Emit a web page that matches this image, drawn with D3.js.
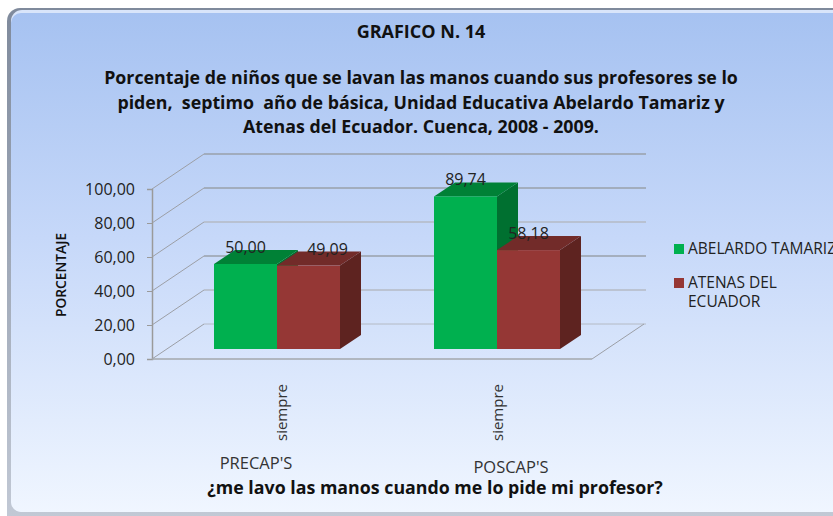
<!DOCTYPE html>
<html lang="es">
<head>
    <meta charset="utf-8" />
    <title>Grafico 14</title>
    <script src="https://cdn.jsdelivr.net/npm/d3@7"></script>
</head>
<body style="margin: 0px; background: #fff; overflow: hidden;">
<svg id="chart" width="833" height="516" style="display: block"></svg>
<script>
    var categories = ["PRECAP'S", "POSCAP'S"];
    var subLabels = ["siempre", "siempre"];
    var seriesNames = ["ABELARDO TAMARIZ", "ATENAS DEL ECUADOR"];
    var abelardo = [50.00, 89.74];
    var atenas = [49.09, 58.18];
    var yTicks = [0, 20, 40, 60, 80, 100];
    var titleLines = [
        "Porcentaje de niños que se lavan las manos cuando sus profesores se lo",
        "piden,  septimo  año de básica, Unidad Educativa Abelardo Tamariz y",
        "Atenas del Ecuador. Cuenca, 2008 - 2009."
    ];

    var font = "'Open Sans', sans-serif";
    var fmt = function(v) { return v.toFixed(2).replace(".", ","); };

    var svg = d3.select("#chart");
    var defs = svg.append("defs");

    var bg = defs.append("linearGradient").attr("id", "panel-bg")
        .attr("x1", 0).attr("y1", 0).attr("x2", 0).attr("y2", 1);
    bg.append("stop").attr("offset", "0%").attr("stop-color", "#a6c2f1");
    bg.append("stop").attr("offset", "45%").attr("stop-color", "#c6d8f9");
    bg.append("stop").attr("offset", "100%").attr("stop-color", "#f0f6ff");

    var edge = defs.append("linearGradient").attr("id", "panel-edge")
        .attr("x1", 0).attr("y1", 0).attr("x2", 0).attr("y2", 1);
    edge.append("stop").attr("offset", "0%").attr("stop-color", "#7f8a9c");
    edge.append("stop").attr("offset", "100%").attr("stop-color", "#c3cad6");

    // panel, runs off the right edge of the picture
    svg.append("rect")
        .attr("x", 7).attr("y", 8).attr("width", 860).attr("height", 520).attr("rx", 13)
        .attr("fill", "url(#panel-edge)");
    svg.append("rect")
        .attr("x", 11).attr("y", 10).attr("width", 860).attr("height", 502).attr("rx", 11)
        .attr("fill", "#d9e5fa");
    svg.append("rect")
        .attr("x", 11).attr("y", 13).attr("width", 860).attr("height", 499).attr("rx", 10)
        .attr("fill", "url(#panel-bg)");

    // scales
    var x = d3.scaleBand().domain(d3.range(categories.length)).range([152, 592]);
    var y = d3.scaleLinear().domain([0, 100]).range([359, 189]);
    var wallDx = 52, wallDy = -35;
    var barW = 63, barDx = 21, barDy = -14;
    var barShiftX = 15, barShiftY = -10;

    var g = svg.append("g");

    // back wall + side wall
    yTicks.forEach(function(t, i) {
        g.append("line")
            .attr("x1", x.range()[0] + wallDx).attr("x2", x.range()[1] + wallDx + 2)
            .attr("y1", y(t) + wallDy).attr("y2", y(t) + wallDy)
            .attr("stroke", i % 2 == 0 && i > 0 || i == 5 ? "#99a0aa" : "#b4bac4")
            .attr("stroke-width", i == 0 ? 1 : 1.3);
        g.append("line")
            .attr("x1", x.range()[0]).attr("x2", x.range()[0] + wallDx)
            .attr("y1", y(t)).attr("y2", y(t) + wallDy)
            .attr("stroke", "#9c9fa6");
    });

    // axis
    var yAxis = d3.axisLeft(y).tickValues(yTicks).tickFormat(fmt).tickSize(5).tickPadding(12);
    var axisG = g.append("g").attr("transform", "translate(" + x.range()[0] + ",0)").call(yAxis);
    axisG.selectAll("line").attr("stroke", "#9a9a9a");
    axisG.select(".domain").attr("stroke", "#9a9a9a").attr("stroke-width", 1.5);
    axisG.selectAll("text").attr("font-family", font).attr("font-size", 16).attr("fill", "#222");

    // floor
    g.append("line")
        .attr("x1", x.range()[0]).attr("x2", x.range()[1])
        .attr("y1", y(0)).attr("y2", y(0))
        .attr("stroke", "#a3a7ad").attr("stroke-width", 1.5);
    g.append("line")
        .attr("x1", x.range()[1]).attr("x2", x.range()[1] + wallDx)
        .attr("y1", y(0)).attr("y2", y(0) + wallDy)
        .attr("stroke", "#9c9fa6");

    // 3d bars
    var colors = [
        {front: "#00b04f", top: "#008136", side: "#007030"},
        {front: "#953735", top: "#722b29", side: "#5e2320"}
    ];

    function bar(xPos, value, c) {
        var x0 = xPos, x1 = xPos + barW;
        var yB = y(0) + barShiftY;
        var yT = y(value) + barShiftY;
        g.append("polygon")
            .attr("points", [[x1, yT], [x1 + barDx, yT + barDy], [x1 + barDx, yB + barDy], [x1, yB]].join(" "))
            .attr("fill", c.side);
        g.append("polygon")
            .attr("points", [[x0, yT], [x0 + barDx, yT + barDy], [x1 + barDx, yT + barDy], [x1, yT]].join(" "))
            .attr("fill", c.top);
        g.append("rect")
            .attr("x", x0).attr("y", yT).attr("width", barW).attr("height", yB - yT)
            .attr("fill", c.front);
    }

    function barX(i, s) {
        return x(i) + x.bandwidth() / 2 + barShiftX - barW + s * barW;
    }

    categories.forEach(function(c, i) {
        bar(barX(i, 0), abelardo[i], colors[0]);
        bar(barX(i, 1), atenas[i], colors[1]);
    });

    function valueLabel(i, s, value, nudge) {
        g.append("text")
            .attr("x", barX(i, s) + barW / 2 + nudge)
            .attr("y", y(value) + barShiftY - 11)
            .attr("text-anchor", "middle")
            .attr("font-family", font).attr("font-size", 16).attr("fill", "#222")
            .text(fmt(value));
    }
    categories.forEach(function(c, i) {
        valueLabel(i, 0, abelardo[i], 0);
        valueLabel(i, 1, atenas[i], i == 0 ? 19 : 0);
    });

    // category labels
    var subX = [287, 503], catX = [256, 511], catY = [469, 473];
    categories.forEach(function(c, i) {
        g.append("text")
            .attr("transform", "translate(" + subX[i] + ",441) rotate(-90)")
            .attr("font-family", font).attr("font-size", 15).attr("fill", "#333")
            .text(subLabels[i]);
        g.append("text")
            .attr("x", catX[i]).attr("y", catY[i]).attr("text-anchor", "middle")
            .attr("font-family", font).attr("font-size", 16.5).attr("fill", "#333")
            .text(c);
    });

    // axis titles
    svg.append("text")
        .attr("x", 435).attr("y", 494).attr("text-anchor", "middle")
        .attr("font-family", font).attr("font-size", 17.8).attr("font-weight", 700).attr("fill", "#111")
        .text("¿me lavo las manos cuando me lo pide mi profesor?");
    svg.append("text")
        .attr("transform", "translate(66,275) rotate(-90)").attr("text-anchor", "middle")
        .attr("font-family", font).attr("font-size", 13.8).attr("font-weight", 600).attr("fill", "#111")
        .text("PORCENTAJE");

    // titles
    svg.append("text")
        .attr("x", 421).attr("y", 38).attr("text-anchor", "middle")
        .attr("font-family", font).attr("font-size", 18).attr("font-weight", 700).attr("fill", "#111")
        .text("GRAFICO N. 14");
    titleLines.forEach(function(t, i) {
        svg.append("text")
            .attr("x", 421).attr("y", 84 + i * 24.5).attr("text-anchor", "middle")
            .attr("font-family", font).attr("font-size", 17.8).attr("font-weight", 700).attr("fill", "#111")
            .attr("xml:space", "preserve").style("white-space", "pre")
            .text(t);
    });

    // legend
    var legendY = [244, 278];
    seriesNames.forEach(function(n, i) {
        g.append("rect")
            .attr("x", 674).attr("y", legendY[i]).attr("width", 10).attr("height", 10)
            .attr("fill", colors[i].front);
    });
    g.append("text")
        .attr("x", 688).attr("y", 254)
        .attr("font-family", font).attr("font-size", 15.5).attr("fill", "#222")
        .text(seriesNames[0]);
    var wrap = seriesNames[1].split(" ");
    [wrap.slice(0, 2).join(" "), wrap[2]].forEach(function(t, i) {
        g.append("text")
            .attr("x", 688).attr("y", 288 + i * 18.5)
            .attr("font-family", font).attr("font-size", 15.5).attr("fill", "#222")
            .text(t);
    });
</script>
</body>
</html>
